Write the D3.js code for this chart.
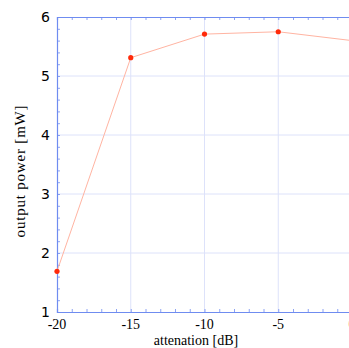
<!DOCTYPE html>
<html>
<head>
<meta charset="utf-8">
<script src="https://cdn.jsdelivr.net/npm/d3@7"></script>
<style>
  body { margin: 0; background: #fff; }
  svg { display: block; }
</style>
</head>
<body>
<svg id="chart" width="349" height="348"></svg>
<script>
const attenuation = [-20, -15, -10, -5, 0];
const outputPower = [1.69, 5.31, 5.71, 5.75, 5.6];
const xTicks = [-20, -15, -10, -5, 0];
const yTicks = [1, 2, 3, 4, 5, 6];

const svg = d3.select('#chart');

// plot box runs past the right edge of the window, like the original
const x = d3.scaleLinear().domain([-20, 0]).range([57, 352]);
const y = d3.scaleLinear().domain([1, 6]).range([312, 17]);

const axisColor = '#6f8cf0';
const gridColor = '#dde2fa';

// grid
svg.append('g').selectAll('line')
    .data(xTicks.slice(1))
    .join('line')
    .attr('x1', d => x(d)).attr('x2', d => x(d))
    .attr('y1', y(6)).attr('y2', y(1))
    .attr('stroke', gridColor).attr('stroke-width', 1);

svg.append('g').selectAll('line')
    .data(yTicks.slice(1, -1))
    .join('line')
    .attr('x1', x(-20)).attr('x2', x(0))
    .attr('y1', d => y(d)).attr('y2', d => y(d))
    .attr('stroke', gridColor).attr('stroke-width', 1);

// axes with inward ticks
const xMinor = d3.range(-20, 0.01, 1);
const yMinor = d3.range(1, 6.01, 0.2);

const bottomAxis = svg.append('g').attr('transform', `translate(0,${y(1)})`)
    .call(d3.axisTop(x).tickValues(xMinor).tickSize(3).tickFormat(''));
const topAxis = svg.append('g').attr('transform', `translate(0,${y(6)})`)
    .call(d3.axisBottom(x).tickValues(xMinor).tickSize(3).tickFormat(''));
const leftAxis = svg.append('g').attr('transform', `translate(${x(-20)},0)`)
    .call(d3.axisRight(y).tickValues(yMinor).tickSize(3).tickFormat(''));

[bottomAxis, topAxis, leftAxis].forEach(g => {
    g.selectAll('path').attr('stroke', axisColor).attr('stroke-width', 1.2);
    g.selectAll('line').attr('stroke', axisColor).attr('stroke-width', 0.8);
});

// tick labels
svg.append('g').selectAll('text')
    .data(xTicks)
    .join('text')
    .attr('x', d => x(d))
    .attr('y', y(1) + 17)
    .attr('text-anchor', 'middle')
    .attr('font-family', '"Liberation Serif", serif')
    .attr('font-size', 14)
    .text(d => d);

svg.append('g').selectAll('text')
    .data(yTicks)
    .join('text')
    .attr('x', x(-20) - 7)
    .attr('y', d => y(d) + 5)
    .attr('text-anchor', 'end')
    .attr('font-family', '"DejaVu Sans", sans-serif')
    .attr('font-size', 14)
    .text(d => d);

// axis titles
svg.append('text')
    .attr('x', 196).attr('y', 345)
    .attr('text-anchor', 'middle')
    .attr('font-family', '"Liberation Serif", serif')
    .attr('font-size', 14)
    .text('attenation [dB]');

svg.append('text')
    .attr('transform', 'translate(25,171) rotate(-90)')
    .attr('text-anchor', 'middle')
    .attr('font-family', '"Liberation Serif", serif')
    .attr('font-size', 15)
    .attr('letter-spacing', 0.8)
    .text('output power [mW]');

// data
const points = attenuation.map((a, i) => [a, outputPower[i]]);

svg.append('path')
    .datum(points)
    .attr('fill', 'none')
    .attr('stroke', '#ffb4a2')
    .attr('stroke-width', 1)
    .attr('d', d3.line().x(d => x(d[0])).y(d => y(d[1])));

svg.append('g').selectAll('circle')
    .data(points)
    .join('circle')
    .attr('cx', d => x(d[0]))
    .attr('cy', d => y(d[1]))
    .attr('r', 2.6)
    .attr('fill', '#ff2a0a');
</script>
</body>
</html>
